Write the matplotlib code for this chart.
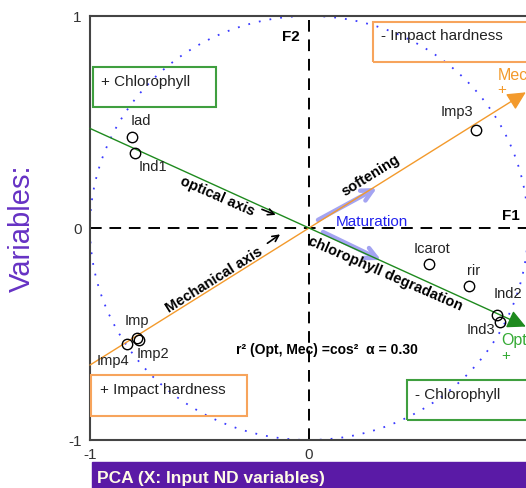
import matplotlib
matplotlib.use('Agg')
import numpy as np
import matplotlib.pyplot as plt
from matplotlib.patches import Rectangle, Circle

plt.rcParams['font.family'] = ['Liberation Sans', 'DejaVu Sans']

# variable loadings on F1 / F2
var_names = ['Iad', 'Ind1', 'Imp3', 'Icarot', 'rir', 'Ind2', 'Ind3', 'Imp', 'Imp2', 'Imp4']
var_f1 = [-0.81, -0.795, 0.763, 0.55, 0.732, 0.858, 0.872, -0.785, -0.776, -0.831]
var_f2 = [0.431, 0.355, 0.462, -0.170, -0.274, -0.41, -0.443, -0.519, -0.528, -0.547]

# label offsets (points) from each marker
label_offsets = {
    'Iad': (7, 11), 'Ind1': (13, -10), 'Imp3': (-14, 13), 'Icarot': (2, 11),
    'rir': (3, 11), 'Ind2': (8, 15), 'Ind3': (-14, -6), 'Imp': (0, 12),
    'Imp2': (10, -10), 'Imp4': (-10, -12),
}

# supplementary axes (Mec = mechanical, Opt = optical)
mec_tip = (0.99, 0.64)
opt_tip = (0.99, -0.465)

# maturation arrows (start, end)
maturation_arrows = [((0.041, 0.038), (0.31, 0.189)),
                     ((0.064, -0.019), (0.329, -0.151))]

# small pointers next to the axis names (start, end)
pointer_arrows = [((-0.215, 0.088), (-0.152, 0.062)),
                  ((-0.19, -0.072), (-0.132, -0.03))]

r2_value = 0.30

orange = '#f39a2c'
green = '#2a962a'
box_orange = '#f7a45c'
box_green = '#3f9f3f'

fig = plt.figure(figsize=(5.26, 4.88), dpi=100)
ax = fig.add_axes([90 / 526, 48 / 488, 438 / 526, 424 / 488])
ax.set_xlim(-1, 1)
ax.set_ylim(-1, 1)

for side in ['left', 'top', 'bottom', 'right']:
    ax.spines[side].set_color('#444444')
    ax.spines[side].set_linewidth(1.5)
ax.set_xticks([-1, 0])
ax.set_xticklabels(['-1', '0'])
ax.set_yticks([-1, 0, 1])
ax.set_yticklabels(['-1', '0', '1'])
ax.tick_params(length=0, labelsize=11, colors='#333333', pad=6)

# correlation circle
ax.add_patch(Circle((0, 0), 1, fill=False, ec='#3a3aff', lw=1.3,
                    ls=(0, (1, 5)), zorder=1))

# zero lines
ax.axhline(0, color='black', lw=1.4, ls=(0, (6, 4)), zorder=1)
ax.axvline(0, color='black', lw=1.4, ls=(0, (6, 4)), zorder=1)

# mechanical and optical axes through the origin
for tip, col in [(mec_tip, orange), (opt_tip, '#1e8a1e')]:
    slope = tip[1] / tip[0]
    ax.annotate('', xy=tip, xytext=(-1, -slope),
                arrowprops=dict(arrowstyle='-|>', color=col, lw=1.0,
                                mutation_scale=28, shrinkA=0, shrinkB=0),
                zorder=3)

ax.text(0.86, 0.72, 'Mec', color=orange, fontsize=11.5, ha='left', va='center')
ax.text(0.86, 0.65, '+', color=orange, fontsize=11, ha='left', va='center')
ax.text(0.88, -0.53, 'Opt', color='#33aa33', fontsize=11.5, ha='left', va='center')
ax.text(0.88, -0.605, '+', color='#33aa33', fontsize=11, ha='left', va='center')

# variables
ax.plot(var_f1, var_f2, 'o', ms=7.5, mfc='none', mec='black', mew=1.0, zorder=4)
for name, x, y in zip(var_names, var_f1, var_f2):
    ax.annotate(name, (x, y), xytext=label_offsets[name], textcoords='offset points',
                ha='center', va='center', fontsize=10.5, color='#222222', zorder=5)

# maturation arrows
for start, end in maturation_arrows:
    ax.annotate('', xy=end, xytext=start,
                arrowprops=dict(arrowstyle='->', color='#a4a4f2', lw=3.2,
                                mutation_scale=20, shrinkA=0, shrinkB=0),
                zorder=2)
ax.text(0.12, 0.03, 'Maturation', color='#2020ee', fontsize=11, ha='left', va='center')

# axis annotations
ax.text(-0.418, 0.15, 'optical axis', rotation=-23.5, rotation_mode='anchor',
        ha='center', va='center', fontsize=10.5, fontweight='bold')
ax.text(-0.435, -0.245, 'Mechanical axis', rotation=32, rotation_mode='anchor',
        ha='center', va='center', fontsize=10.5, fontweight='bold')
for start, end in pointer_arrows:
    ax.annotate('', xy=end, xytext=start,
                arrowprops=dict(arrowstyle='->', color='black', lw=1.2,
                                mutation_scale=11, shrinkA=0, shrinkB=0),
                zorder=5)
ax.text(0.28, 0.245, 'softening', rotation=32, rotation_mode='anchor',
        ha='center', va='center', fontsize=10.5, fontweight='bold')
ax.text(0.35, -0.215, 'chlorophyll degradation', rotation=-23.5, rotation_mode='anchor',
        ha='center', va='center', fontsize=10.5, fontweight='bold')
ax.text(0.08, -0.575, 'r² (Opt, Mec) =cos²  α = %.2f' % r2_value,
        ha='center', va='center', fontsize=10, fontweight='bold')

ax.text(-0.085, 0.9, 'F2', fontsize=11, fontweight='bold', ha='center', va='center')
ax.text(0.92, 0.055, 'F1', fontsize=11, fontweight='bold', ha='center', va='center')

# interpretation boxes
boxes = [
    ((-0.988, 0.572), 0.563, 0.189, box_green, '+ Chlorophyll', (-0.95, 0.69)),
    ((0.294, 0.781), 0.75, 0.192, box_orange, '- Impact hardness', (0.33, 0.904)),
    ((-0.995, -0.887), 0.713, 0.194, box_orange, '+ Impact hardness', (-0.955, -0.764)),
    ((0.446, -0.906), 0.6, 0.189, box_green, '- Chlorophyll', (0.485, -0.788)),
]
for xy, w, h, col, txt, txy in boxes:
    ax.add_patch(Rectangle(xy, w, h, fill=False, ec=col, lw=1.5, zorder=3,
                           clip_on=False))
    ax.text(txy[0], txy[1], txt, fontsize=11, color='#222222', ha='left', va='center')

# left title and bottom banner
fig.text(22 / 526, 1 - 228 / 488, 'Variables:', rotation=90, color='#6632c4',
         fontsize=21, ha='center', va='center')
fig.patches.append(Rectangle((92 / 526, 0), 1, 26 / 488, transform=fig.transFigure,
                             color='#5a1aa6', zorder=0))
fig.text(97 / 526, 10 / 488, 'PCA (X: Input ND variables)', color='#fffbe6',
         fontsize=12.5, fontweight='bold', ha='left', va='center')

fig.savefig('out.png', dpi=100)
